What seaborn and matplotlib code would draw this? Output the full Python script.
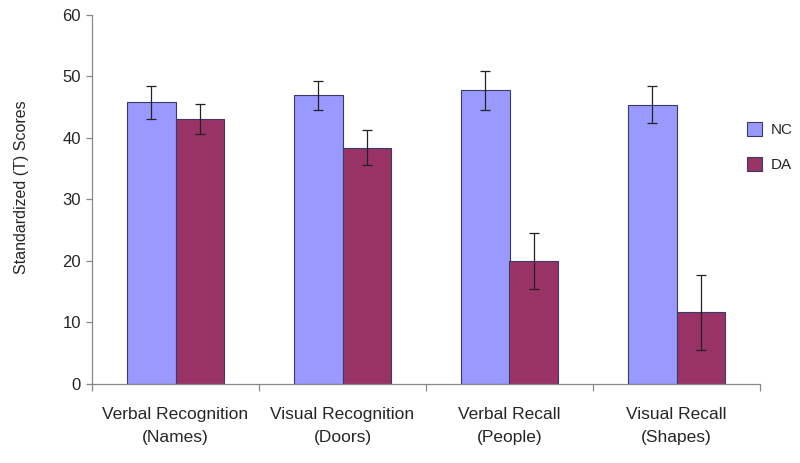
import numpy as np
import pandas as pd
import seaborn as sns
import matplotlib
matplotlib.use("Agg")
from matplotlib import pyplot as plt
from matplotlib.patches import Patch

tasks = ["Verbal Recognition\n(Names)", "Visual Recognition\n(Doors)",
         "Verbal Recall\n(People)", "Visual Recall\n(Shapes)"]
groups = ["NC", "DA"]
nc_mean = [45.8, 46.9, 47.7, 45.4]
da_mean = [43.1, 38.4, 19.9, 11.6]
nc_err = [2.7, 2.35, 3.15, 3.0]
da_err = [2.45, 2.8, 4.55, 6.15]
colors = {"NC": "#9999FF", "DA": "#993366"}

df = pd.DataFrame({
    "task": tasks * 2,
    "group": ["NC"] * 4 + ["DA"] * 4,
    "score": nc_mean + da_mean,
    "err": nc_err + da_err,
})

sns.set_style("white")
plt.rcParams["font.family"] = ["Liberation Sans", "DejaVu Sans"]

fig = plt.figure(figsize=(8, 4.63), dpi=100)
ax = fig.add_axes([0.115, 0.171, 0.835, 0.797])

sns.barplot(data=df, x="task", y="score", hue="group", hue_order=groups,
            palette=colors, width=0.575, gap=0, errorbar=None,
            edgecolor="#3a3a66", linewidth=0.8, saturation=1, legend=False, ax=ax)

# error bars at the centres of the drawn bars
for cont, g in zip(ax.containers, groups):
    sub = df[df["group"] == g]
    xs = [p.get_x() + p.get_width() / 2 for p in cont.patches]
    ax.errorbar(xs, sub["score"].values, yerr=sub["err"].values, fmt="none",
                ecolor="#222222", elinewidth=0.9, capsize=3.5, capthick=0.9)

ax.set_ylim(0, 60)
ax.set_xlim(-0.5, 3.5)
ax.set_yticks(range(0, 61, 10))
ax.set_xlabel("")
ax.set_ylabel("Standardized (T) Scores", fontsize=11.5)
ax.yaxis.set_label_coords(-0.094, 0.534)

ax.set_xticks(np.arange(-0.5, 3.6, 1), minor=True)
ax.tick_params(axis="x", which="major", bottom=True, length=0, pad=17, labelsize=12.5)
ax.tick_params(axis="x", which="minor", bottom=True, direction="out", length=5,
               color="#888888", width=0.9)
ax.tick_params(axis="y", which="major", left=True, direction="out", length=4,
               color="#888888", width=0.9, labelsize=12, pad=4)
for lab in ax.get_xticklabels():
    lab.set_linespacing(1.65)

sns.despine(ax=ax)
for s in ["left", "bottom"]:
    ax.spines[s].set_color("#888888")
    ax.spines[s].set_linewidth(0.9)

handles = [Patch(facecolor=colors[g], edgecolor="#3a3a66", linewidth=0.8) for g in groups]
fig.legend(handles, groups, loc="upper left", bbox_to_anchor=(747 / 800, 1 - 122 / 463),
           frameon=False, fontsize=11, handlelength=1.0, handleheight=1.0,
           handletextpad=0.55, labelspacing=1.3, borderpad=0, borderaxespad=0)

fig.savefig("out.png", dpi=100)
plt.close(fig)
